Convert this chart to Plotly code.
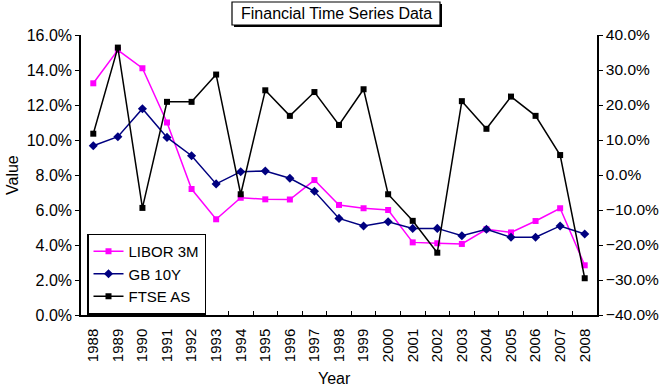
import plotly.graph_objects as go

years = [str(y) for y in range(1988, 2009)]
libor_3m = [13.24, 15.14, 14.10, 11.00, 7.20, 5.47, 6.70, 6.61, 6.60, 7.71, 6.29,
            6.10, 6.00, 4.15, 4.10, 4.06, 4.90, 4.72, 5.37, 6.10, 2.84]
gb_10y = [9.67, 10.19, 11.79, 10.15, 9.10, 7.49, 8.19, 8.23, 7.81, 7.07, 5.52,
          5.09, 5.33, 4.95, 4.95, 4.53, 4.90, 4.44, 4.44, 5.09, 4.63]
ftse_as = [11.8, 36.4, -9.4, 20.9, 20.9, 28.7, -5.5, 24.2, 16.9, 23.7, 14.3,
           24.5, -5.5, -13.1, -22.2, 21.1, 13.2, 22.4, 16.9, 5.7, -29.5]

FONT = "Liberation Sans, Arial, sans-serif"
W, H = 659, 388
L, R, T, B = 81, 62, 35, 73
PW, PH = W - L - R, H - T - B


def px(x):
    return (x - L) / PW


def py(y):
    return (H - B - y) / PH


fig = go.Figure()
fig.add_trace(go.Scatter(
    x=years, y=[v / 100 for v in libor_3m], name="LIBOR 3M", mode="lines+markers",
    line=dict(color="#FF00FF", width=1.5),
    marker=dict(symbol="square", size=6, color="#FF00FF")))
fig.add_trace(go.Scatter(
    x=years, y=[v / 100 for v in gb_10y], name="GB 10Y", mode="lines+markers",
    line=dict(color="#000080", width=1.5),
    marker=dict(symbol="diamond", size=7, color="#000080")))
fig.add_trace(go.Scatter(
    x=years, y=[v / 100 for v in ftse_as], name="FTSE AS", mode="lines+markers",
    yaxis="y2",
    line=dict(color="#000000", width=1.5),
    marker=dict(symbol="square", size=6, color="#000000")))

fig.update_layout(
    width=W, height=H,
    margin=dict(l=L, r=R, t=T, b=B, pad=0, autoexpand=False),
    paper_bgcolor="white", plot_bgcolor="white",
    font=dict(family=FONT, color="black", size=15),
    showlegend=True,
    legend=dict(x=px(87), y=py(274), xanchor="left", yanchor="middle",
                bgcolor="white", bordercolor="black", borderwidth=1.5,
                font=dict(size=15, family=FONT), itemwidth=30,
                tracegroupgap=0),
    xaxis=dict(type="category", range=[-0.5, 20.5], tickangle=-90,
               tickfont=dict(size=15), showline=True, linecolor="black",
               linewidth=1.5, ticks="inside", ticklen=4, tickcolor="black",
               tickson="boundaries", showgrid=False, zeroline=False,
               ticklabelstandoff=6, automargin=False),
    yaxis=dict(range=[0, 0.16], dtick=0.02, tickformat=".1%",
               tickfont=dict(size=16), showline=True, linecolor="black",
               linewidth=1.5, ticks="outside", ticklen=4, tickcolor="black",
               showgrid=False, zeroline=False, automargin=False),
    yaxis2=dict(range=[-0.4, 0.4], dtick=0.1, tickformat=".1%", overlaying="y",
                side="right", tickfont=dict(size=15.5), showline=True,
                linecolor="black", linewidth=1.5, ticks="outside", ticklen=4,
                tickcolor="black", showgrid=False, zeroline=False,
                automargin=False),
    shapes=[
        dict(type="rect", xref="paper", yref="paper",
             x0=px(234), x1=px(442), y0=py(27), y1=py(4),
             fillcolor="black", line=dict(width=0), layer="above"),
        dict(type="rect", xref="paper", yref="paper",
             x0=px(232), x1=px(440), y0=py(25), y1=py(2),
             fillcolor="white", line=dict(color="black", width=1.2),
             layer="above"),
    ],
    annotations=[
        dict(text="Financial Time Series Data", xref="paper", yref="paper",
             x=px(336), y=py(13.5), xanchor="center", yanchor="middle",
             showarrow=False, font=dict(size=16, family=FONT)),
        dict(text="Value", xref="paper", yref="paper", x=px(12), y=py(175),
             xanchor="center", yanchor="middle", textangle=-90,
             showarrow=False, font=dict(size=16, family=FONT)),
        dict(text="Year", xref="paper", yref="paper", x=px(334), y=py(378),
             xanchor="center", yanchor="middle",
             showarrow=False, font=dict(size=16, family=FONT)),
    ],
)

fig.write_html("out.html",
               config={"displayModeBar": False},
               post_script="document.body.style.margin='0';"
                           "document.body.style.overflow='hidden';")
